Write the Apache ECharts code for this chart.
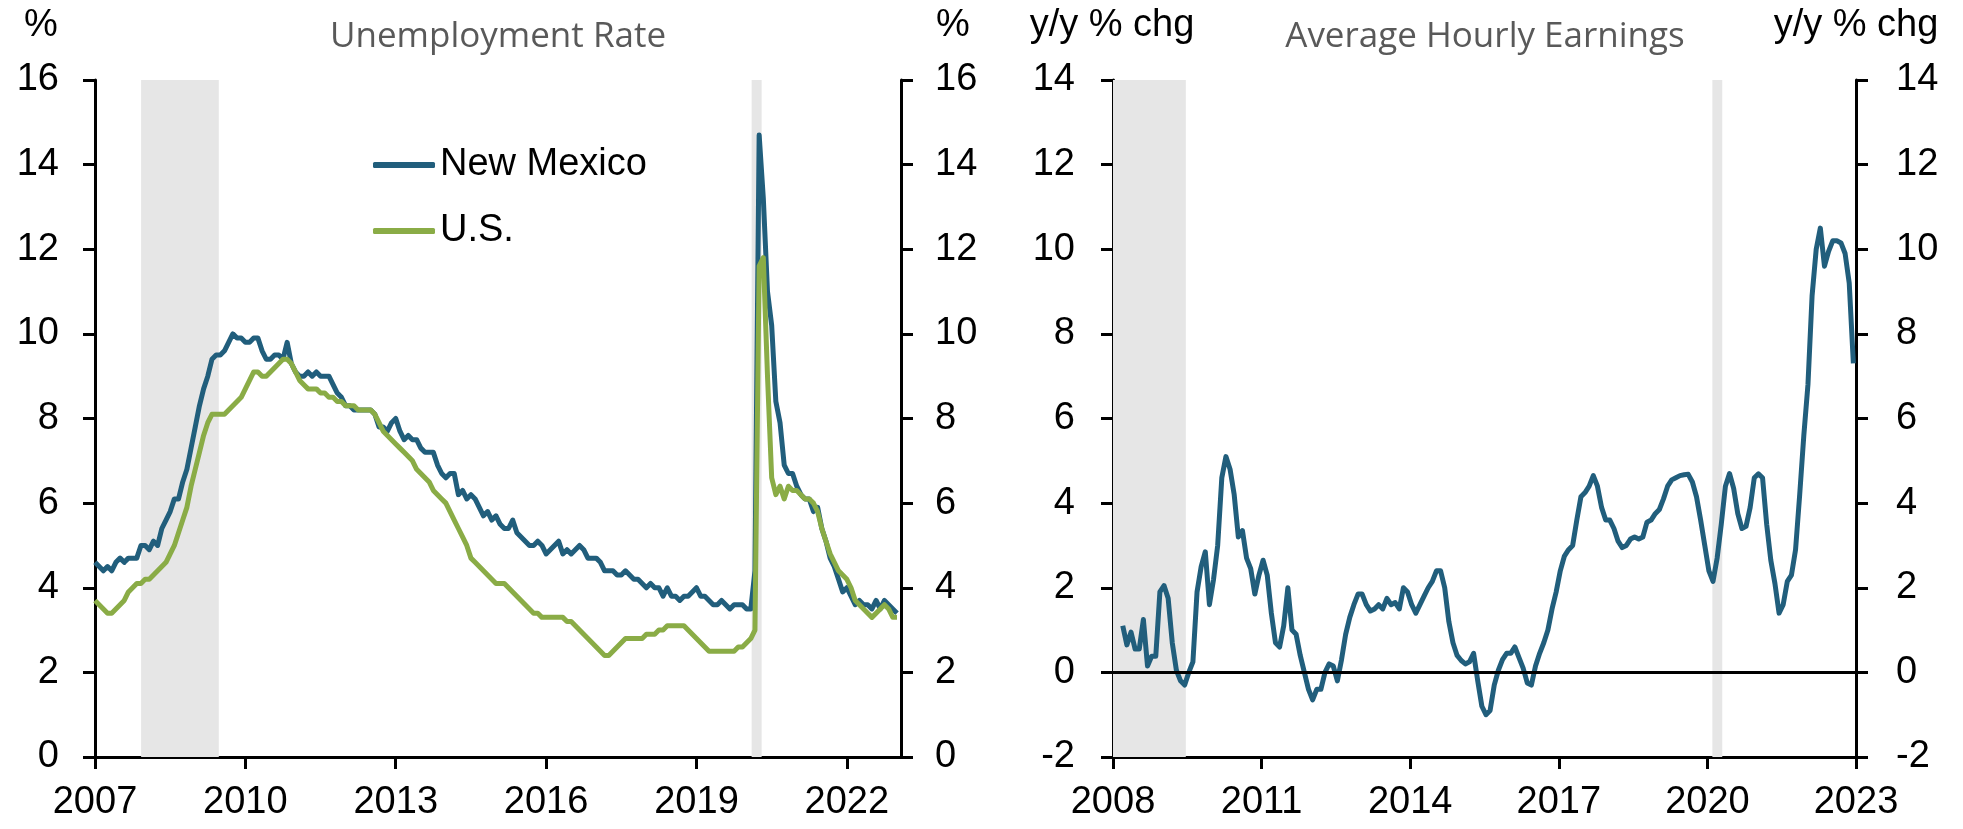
<!DOCTYPE html>
<html>
<head>
<meta charset="utf-8">
<script src="https://cdn.jsdelivr.net/npm/echarts@6/dist/echarts.min.js"></script>
<style>
  html, body { margin: 0; padding: 0; background: #fff; }
  #chart { width: 1963px; height: 829px; }
</style>
</head>
<body>
<div id="chart"></div>
<script>
// unemployment rate, monthly from Jan 2007 to Jan 2023
const unempStartYear = 2007
const newMexico = [
  4.6, 4.5, 4.4, 4.5, 4.4, 4.6, 4.7, 4.6, 4.7, 4.7, 4.7, 5.0,
  5.0, 4.9, 5.1, 5.0, 5.4, 5.6, 5.8, 6.1, 6.1, 6.5, 6.8, 7.3,
  7.8, 8.3, 8.7, 9.0, 9.4, 9.5, 9.5, 9.6, 9.8, 10.0, 9.9, 9.9,
  9.8, 9.8, 9.9, 9.9, 9.6, 9.4, 9.4, 9.5, 9.5, 9.4, 9.8, 9.3,
  9.1, 9.0, 9.0, 9.1, 9.0, 9.1, 9.0, 9.0, 9.0, 8.8, 8.6, 8.5,
  8.3, 8.3, 8.2, 8.2, 8.2, 8.2, 8.2, 8.1, 7.8, 7.8, 7.7, 7.9,
  8.0, 7.7, 7.5, 7.6, 7.5, 7.5, 7.3, 7.2, 7.2, 7.2, 6.9, 6.7,
  6.6, 6.7, 6.7, 6.2, 6.3, 6.1, 6.2, 6.1, 5.9, 5.7, 5.8, 5.6,
  5.7, 5.5, 5.4, 5.4, 5.6, 5.3, 5.2, 5.1, 5.0, 5.0, 5.1, 5.0,
  4.8, 4.9, 5.0, 5.1, 4.8, 4.9, 4.8, 4.9, 5.0, 4.9, 4.7, 4.7,
  4.7, 4.6, 4.4, 4.4, 4.4, 4.3, 4.3, 4.4, 4.3, 4.2, 4.2, 4.1,
  4.0, 4.1, 4.0, 4.0, 3.8, 4.0, 3.8, 3.8, 3.7, 3.8, 3.8, 3.9,
  4.0, 3.8, 3.8, 3.7, 3.6, 3.6, 3.7, 3.6, 3.5, 3.6, 3.6, 3.6,
  3.5, 3.5, 4.4, 14.7, 13.2, 11.0, 10.2, 8.4, 7.9, 6.9, 6.7, 6.7,
  6.4, 6.2, 6.1, 6.1, 5.8, 5.9, 5.4, 5.1, 4.7, 4.5, 4.2, 3.9,
  4.0, 3.8, 3.6, 3.7, 3.6, 3.6, 3.5, 3.7, 3.5, 3.7, 3.6, 3.5,
  3.4
]
const us = [
  3.7, 3.6, 3.5, 3.4, 3.4, 3.5, 3.6, 3.7, 3.9, 4.0, 4.1, 4.1,
  4.2, 4.2, 4.3, 4.4, 4.5, 4.6, 4.8, 5.0, 5.3, 5.6, 5.9, 6.4,
  6.8, 7.2, 7.6, 7.9, 8.1, 8.1, 8.1, 8.1, 8.2, 8.3, 8.4, 8.5,
  8.7, 8.9, 9.1, 9.1, 9.0, 9.0, 9.1, 9.2, 9.3, 9.4, 9.4, 9.3,
  9.1, 8.9, 8.8, 8.7, 8.7, 8.7, 8.6, 8.6, 8.5, 8.5, 8.4, 8.4,
  8.3, 8.3, 8.3, 8.2, 8.2, 8.2, 8.2, 8.1, 7.9, 7.7, 7.6, 7.5,
  7.4, 7.3, 7.2, 7.1, 7.0, 6.8, 6.7, 6.6, 6.5, 6.3, 6.2, 6.1,
  6.0, 5.8, 5.6, 5.4, 5.2, 5.0, 4.7, 4.6, 4.5, 4.4, 4.3, 4.2,
  4.1, 4.1, 4.1, 4.0, 3.9, 3.8, 3.7, 3.6, 3.5, 3.4, 3.4, 3.3,
  3.3, 3.3, 3.3, 3.3, 3.3, 3.2, 3.2, 3.1, 3.0, 2.9, 2.8, 2.7,
  2.6, 2.5, 2.4, 2.4, 2.5, 2.6, 2.7, 2.8, 2.8, 2.8, 2.8, 2.8,
  2.9, 2.9, 2.9, 3.0, 3.0, 3.1, 3.1, 3.1, 3.1, 3.1, 3.0, 2.9,
  2.8, 2.7, 2.6, 2.5, 2.5, 2.5, 2.5, 2.5, 2.5, 2.5, 2.6, 2.6,
  2.7, 2.8, 3.0, 11.6, 11.8, 9.0, 6.6, 6.2, 6.4, 6.1, 6.4, 6.3,
  6.3, 6.2, 6.1, 6.1, 6.0, 5.8, 5.4, 5.1, 4.8, 4.6, 4.4, 4.3,
  4.2, 4.0, 3.7, 3.6, 3.5, 3.4, 3.3, 3.4, 3.5, 3.6, 3.5, 3.3,
  3.3
]

// average hourly earnings y/y % chg, monthly from Mar 2008 to Dec 2022
const earnStartYear = 2008
const earnStartMonth = 2
const earnings = [
  1.1, 0.65, 0.95, 0.55, 0.55, 1.25, 0.15, 0.38, 0.38, 1.9,
  2.05, 1.75, 0.7, 0.05, -0.2, -0.3, 0.0, 0.25, 1.9, 2.5, 2.85, 1.6,
  2.2, 3.0, 4.6, 5.1, 4.8, 4.2, 3.2, 3.35, 2.7, 2.45, 1.85, 2.3,
  2.65, 2.3, 1.4, 0.7, 0.6, 1.1, 2.0, 1.0, 0.9, 0.4, 0.0, -0.4,
  -0.65, -0.4, -0.4, 0.0, 0.2, 0.15, -0.2, 0.3, 0.9, 1.3, 1.6, 1.85,
  1.85, 1.6, 1.45, 1.5, 1.6, 1.5, 1.75, 1.6, 1.65, 1.5, 2.0, 1.9,
  1.6, 1.4, 1.6, 1.8, 2.0, 2.15, 2.4, 2.4, 2.0, 1.2, 0.7, 0.4,
  0.28, 0.2, 0.25, 0.45, -0.2, -0.8, -1.0, -0.9, -0.3, 0.05, 0.3, 0.45,
  0.45, 0.6, 0.35, 0.1, -0.25, -0.3, 0.15, 0.45, 0.7, 1.0, 1.5, 1.9,
  2.4, 2.75, 2.9, 3.0, 3.6, 4.15, 4.25, 4.4, 4.65, 4.4, 3.9, 3.6,
  3.6, 3.4, 3.1, 2.95, 3.0, 3.15, 3.2, 3.15, 3.2, 3.55, 3.6, 3.75,
  3.85, 4.1, 4.4, 4.55, 4.6, 4.65, 4.67, 4.68, 4.5, 4.15, 3.6, 3.0,
  2.4, 2.15, 2.7, 3.5, 4.4, 4.7, 4.35, 3.75, 3.4, 3.45, 3.9, 4.6,
  4.69, 4.6, 3.5, 2.65, 2.1, 1.4, 1.6, 2.15, 2.3, 2.9, 4.2, 5.6,
  6.8, 8.9, 10.0, 10.5, 9.6, 9.95, 10.2, 10.2, 10.15, 9.9, 9.2, 7.3
]

// recession periods (decimal years)
const recessions = [[2007.92, 2009.47], [2020.1, 2020.3]]

const unempTicks = [2007, 2010, 2013, 2016, 2019, 2022]
const earnTicks = [2008, 2011, 2014, 2017, 2020, 2023]

const NAVY = '#215e7c'
const GREEN = '#8aac46'
const FONT = 'Liberation Sans'

function monthly (values, startYear, startMonth, shift) {
  return values.map((v, i) => [startYear + (startMonth + i) / 12 + shift, v])
}

function bands (minX) {
  return recessions.map(([a, b]) => [{ xAxis: Math.max(a, minX) }, { xAxis: b }])
}

function xAxisFor (gridIndex, min, max, ticks) {
  return {
    type: 'value',
    gridIndex,
    min,
    max,
    axisLine: { show: true, onZero: false, lineStyle: { color: '#000', width: 3 } },
    axisTick: { show: true, inside: false, length: 12, customValues: ticks, lineStyle: { color: '#000', width: 3 } },
    axisLabel: {
      customValues: ticks,
      margin: 27,
      color: '#000',
      fontFamily: FONT,
      fontSize: 38,
      formatter: v => String(Math.round(v))
    },
    splitLine: { show: false }
  }
}

function yAxisFor (gridIndex, position, min, max, margin) {
  return {
    type: 'value',
    gridIndex,
    position,
    min,
    max,
    interval: 2,
    axisLine: { show: true, onZero: false, lineStyle: { color: '#000', width: 3 } },
    axisTick: { show: true, inside: false, length: 12, lineStyle: { color: '#000', width: 3 } },
    axisLabel: { margin, color: '#000', fontFamily: FONT, fontSize: 38 },
    splitLine: { show: false }
  }
}

const chart = echarts.init(document.getElementById('chart'), null, { renderer: 'canvas' })

chart.setOption({
  animation: false,
  backgroundColor: '#fff',
  grid: [
    { left: 95, top: 80, width: 806, height: 677, containLabel: false },
    { left: 1113, top: 80, width: 743, height: 677, containLabel: false }
  ],
  xAxis: [
    xAxisFor(0, 2007, 2023.08, unempTicks),
    xAxisFor(1, 2008, 2023, earnTicks)
  ],
  yAxis: [
    yAxisFor(0, 'left', 0, 16, 36),
    yAxisFor(0, 'right', 0, 16, 34),
    yAxisFor(1, 'left', -2, 14, 38),
    yAxisFor(1, 'right', -2, 14, 40)
  ],
  legend: {
    data: ['New Mexico', 'U.S.'],
    orient: 'vertical',
    left: 368,
    top: 141,
    icon: 'roundRect',
    itemWidth: 62,
    itemHeight: 6,
    itemGap: 28,
    textStyle: { color: '#000', fontFamily: FONT, fontSize: 38, lineHeight: 38 }
  },
  graphic: [
    { type: 'text', x: 498, y: 37, style: { text: 'Unemployment Rate', fontFamily: 'Open Sans', fontSize: 35, fill: '#595959', align: 'center', verticalAlign: 'middle' } },
    { type: 'text', x: 1485, y: 37, style: { text: 'Average Hourly Earnings', fontFamily: 'Open Sans', fontSize: 35, fill: '#595959', align: 'center', verticalAlign: 'middle' } },
    { type: 'text', x: 41, y: 26, style: { text: '%', fontFamily: FONT, fontSize: 38, fill: '#000', align: 'center', verticalAlign: 'middle' } },
    { type: 'text', x: 953, y: 26, style: { text: '%', fontFamily: FONT, fontSize: 38, fill: '#000', align: 'center', verticalAlign: 'middle' } },
    { type: 'text', x: 1112, y: 26, style: { text: 'y/y % chg', fontFamily: FONT, fontSize: 38, fill: '#000', align: 'center', verticalAlign: 'middle' } },
    { type: 'text', x: 1856, y: 26, style: { text: 'y/y % chg', fontFamily: FONT, fontSize: 38, fill: '#000', align: 'center', verticalAlign: 'middle' } }
  ],
  series: [
    {
      name: 'New Mexico',
      type: 'line',
      xAxisIndex: 0,
      yAxisIndex: 0,
      data: monthly(newMexico, unempStartYear, 0, 0),
      showSymbol: false,
      symbol: 'none',
      lineStyle: { color: NAVY, width: 5, join: 'round' },
      itemStyle: { color: NAVY },
      markArea: {
        silent: true,
        itemStyle: { color: '#e6e6e6' },
        data: bands(2007)
      }
    },
    {
      name: 'U.S.',
      type: 'line',
      xAxisIndex: 0,
      yAxisIndex: 0,
      data: monthly(us, unempStartYear, 0, 0),
      showSymbol: false,
      symbol: 'none',
      lineStyle: { color: GREEN, width: 5, join: 'round' },
      itemStyle: { color: GREEN }
    },
    {
      name: 'Average Hourly Earnings',
      type: 'line',
      xAxisIndex: 1,
      yAxisIndex: 2,
      data: monthly(earnings, earnStartYear, earnStartMonth, 0.03),
      showSymbol: false,
      symbol: 'none',
      lineStyle: { color: NAVY, width: 5, join: 'round' },
      itemStyle: { color: NAVY },
      markArea: {
        silent: true,
        itemStyle: { color: '#e6e6e6' },
        data: bands(2008)
      },
      markLine: {
        silent: true,
        symbol: ['none', 'none'],
        label: { show: false },
        lineStyle: { color: '#000', width: 3, type: 'solid' },
        data: [{ yAxis: 0 }]
      }
    }
  ]
})
</script>
</body>
</html>
